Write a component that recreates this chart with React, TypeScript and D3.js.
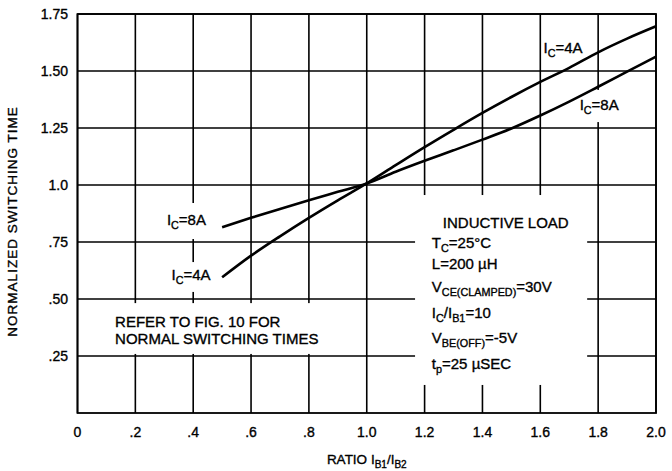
import React from "react";
import * as d3 from "d3";

const xTicks = [0, 0.2, 0.4, 0.6, 0.8, 1.0, 1.2, 1.4, 1.6, 1.8, 2.0];
const xTickLabels = ["0", ".2", ".4", ".6", ".8", "1.0", "1.2", "1.4", "1.6", "1.8", "2.0"];
const yTicks = [0.25, 0.5, 0.75, 1.0, 1.25, 1.5, 1.75];
const yTickLabels = [".25", ".50", ".75", "1.0", "1.25", "1.50", "1.75"];

const ratio = [0.5, 0.6, 0.7, 0.8, 0.9, 1.0, 1.1, 1.2, 1.3, 1.4, 1.5, 1.6, 1.7, 1.8, 1.9, 2.0];
const time4A = [0.595, 0.69, 0.775, 0.856, 0.933, 1.007, 1.087, 1.166, 1.242, 1.316, 1.386, 1.452, 1.514, 1.582, 1.642, 1.696];
const time8A = [0.815, 0.856, 0.895, 0.933, 0.97, 1.007, 1.058, 1.106, 1.152, 1.199, 1.248, 1.305, 1.366, 1.431, 1.497, 1.563];

const W = 672;
const H = 471;
const FONT = "'Liberation Sans', Arial, Helvetica, sans-serif";

type Part = { t: string; sub?: boolean };

function Rich({ x, y, parts, size, subSize, anchor }: { x: number; y: number; parts: Part[]; size: number; subSize?: number; anchor?: string }) {
  let off = 0;
  const ss = subSize ?? size * 0.72;
  return (
    <text x={x} y={y} fontSize={size} textAnchor={anchor ?? "start"} fontFamily={FONT} fill="#000" stroke="#000" strokeWidth={0.35}>
      {parts.map((p, i) => {
        const target = p.sub ? 4 : 0;
        const dy = target - off;
        off = target;
        return (
          <tspan key={i} dy={dy} fontSize={p.sub ? ss : size}>
            {p.t}
          </tspan>
        );
      })}
    </text>
  );
}

export default function App() {
  const x = d3.scaleLinear().domain([0, 2]).range([77.5, 656]);
  const y = d3.scaleLinear().domain([0, 1.75]).range([413, 14]);

  const line = d3
    .line<number>()
    .x((_, i) => x(ratio[i]))
    .y((d) => y(d))
    .curve(d3.curveMonotoneX);

  const mask = (x0: number, x1: number, y0: number, y1: number, k: string) => (
    <rect key={k} x={x(x0)} y={y(y0)} width={x(x1) - x(x0)} height={y(y1) - y(y0)} fill="#fff" />
  );

  const blockX = x(1.225);
  const txt = { fontFamily: FONT, fill: "#000", stroke: "#000", strokeWidth: 0.35 };

  return (
    <svg width={W} height={H} style={{ position: "absolute", left: 0, top: 0, background: "#fff" }}>
      <rect x={0} y={0} width={W} height={H} fill="#fff" />
      {/* grid */}
      {xTicks.map((t) => (
        <line key={"gx" + t} x1={x(t)} x2={x(t)} y1={y(0)} y2={y(1.75)} stroke="#000" strokeWidth={1.6} />
      ))}
      {yTicks.map((t) => (
        <line key={"gy" + t} x1={x(0)} x2={x(2)} y1={y(t)} y2={y(t)} stroke="#000" strokeWidth={1.6} />
      ))}
      {/* masks behind text */}
      {mask(0.29, 0.49, 0.921, 0.763, "m1")}
      {mask(0.3, 0.49, 0.662, 0.531, "m2")}
      {mask(1.608, 1.78, 1.649, 1.539, "m3")}
      {mask(1.72, 1.903, 1.417, 1.276, "m4")}
      {mask(0.006, 0.88, 0.482, 0.259, "m5")}
      {mask(1.167, 1.762, 0.956, 0.123, "m6")}
      {/* frame */}
      <rect x={x(0)} y={y(1.75)} width={x(2) - x(0)} height={y(0) - y(1.75)} fill="none" stroke="#000" strokeWidth={1.8} />
      {/* curves */}
      <path d={line(time4A) ?? ""} fill="none" stroke="#000" strokeWidth={2.6} />
      <path d={line(time8A) ?? ""} fill="none" stroke="#000" strokeWidth={2.6} />
      {/* tick labels */}
      {yTicks.map((t, i) => (
        <text key={"yl" + t} x={68} y={y(t) + 5} textAnchor="end" fontSize={14} {...txt}>
          {yTickLabels[i]}
        </text>
      ))}
      {xTicks.map((t, i) => (
        <text key={"xl" + t} x={x(t)} y={437} textAnchor="middle" fontSize={14} {...txt}>
          {xTickLabels[i]}
        </text>
      ))}
      {/* axis titles */}
      <text
        transform={`translate(17, ${(y(0) + y(1.75)) / 2 + 8}) rotate(-90)`}
        textAnchor="middle"
        fontSize={13.5}
        letterSpacing={1}
        {...txt}
      >
        NORMALIZED SWITCHING TIME
      </text>
      <Rich
        x={(x(0) + x(2)) / 2}
        y={464}
        anchor="middle"
        size={13.5}
        subSize={10}
        parts={[{ t: "RATIO I" }, { t: "B1", sub: true }, { t: "/I" }, { t: "B2", sub: true }]}
      />
      {/* curve labels */}
      <Rich x={x(0.309)} y={y(0.825)} size={15} parts={[{ t: "I" }, { t: "C", sub: true }, { t: "=8A" }]} />
      <Rich x={x(0.325)} y={y(0.583)} size={15} parts={[{ t: "I" }, { t: "C", sub: true }, { t: "=4A" }]} />
      <Rich x={x(1.611)} y={y(1.578)} size={15} parts={[{ t: "I" }, { t: "C", sub: true }, { t: "=4A" }]} />
      <Rich x={x(1.736)} y={y(1.329)} size={15} parts={[{ t: "I" }, { t: "C", sub: true }, { t: "=8A" }]} />
      {/* notes */}
      <text x={x(0.13)} y={y(0.379)} fontSize={15} {...txt}>REFER TO FIG. 10 FOR</text>
      <text x={x(0.13)} y={y(0.303)} fontSize={15} {...txt}>NORMAL SWITCHING TIMES</text>
      <text x={x(1.263)} y={y(0.81)} fontSize={15} {...txt}>INDUCTIVE LOAD</text>
      <Rich x={blockX} y={y(0.722)} size={15} parts={[{ t: "T" }, { t: "C", sub: true }, { t: "=25°C" }]} />
      <Rich x={blockX} y={y(0.63)} size={15} parts={[{ t: "L=200 µH" }]} />
      <Rich x={blockX} y={y(0.532)} size={15} parts={[{ t: "V" }, { t: "CE(CLAMPED)", sub: true }, { t: "=30V" }]} />
      <Rich x={blockX} y={y(0.415)} size={15} parts={[{ t: "I" }, { t: "C", sub: true }, { t: "/I" }, { t: "B1", sub: true }, { t: "=10" }]} />
      <Rich x={blockX} y={y(0.307)} size={15} parts={[{ t: "V" }, { t: "BE(OFF)", sub: true }, { t: "=-5V" }]} />
      <Rich x={blockX} y={y(0.193)} size={15} parts={[{ t: "t" }, { t: "p", sub: true }, { t: "=25 µSEC" }]} />
    </svg>
  );
}
